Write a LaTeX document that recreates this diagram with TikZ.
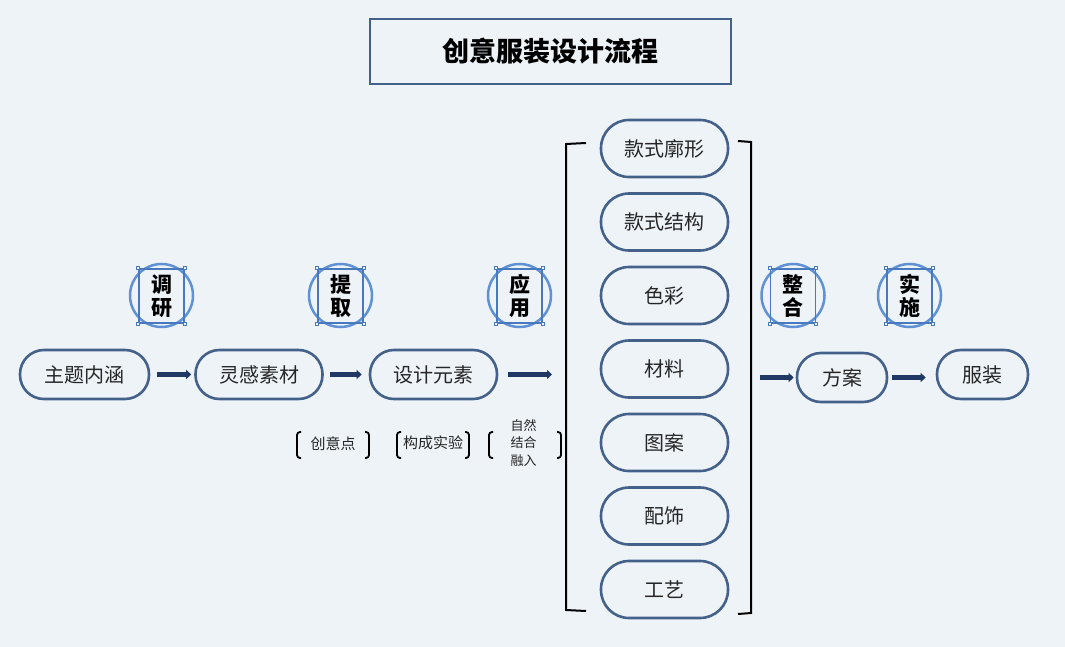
\documentclass[tikz,border=0pt]{standalone}
\usepackage{fontspec}
\setmainfont{Noto Sans CJK SC}
\usetikzlibrary{arrows.meta}
\definecolor{bgcol}{RGB}{238,243,248}
\definecolor{boxline}{RGB}{68,97,138}
\definecolor{flowcol}{RGB}{31,56,100}
\definecolor{ringcol}{RGB}{95,145,212}
\definecolor{sqcol}{RGB}{72,120,190}
\begin{document}
\begin{tikzpicture}[x=1pt, y=-1pt,
  every node/.style={font=\fontsize{20}{24}\selectfont, text=black!85},
  stepbox/.style={draw=boxline, line width=2.6pt, rounded corners=24pt, minimum width=127pt, minimum height=49pt, inner sep=0pt},
  colbox/.style={stepbox, rounded corners=28pt, minimum height=57pt},
  flow/.style={draw=flowcol, line width=4.5pt, -{Triangle[length=5pt,width=9pt]}},
  ring/.style={circle, draw=ringcol, line width=2.5pt, minimum size=63pt, inner sep=0pt},
  tag/.style={draw=sqcol, line width=1.6pt, minimum width=45pt, minimum height=54pt, inner sep=0pt, align=center, font=\fontsize{21}{23}\selectfont\bfseries, text=black},
  handle/.style={draw=sqcol, fill=bgcol, line width=0.8pt, minimum size=3pt, inner sep=0pt},
  note/.style={font=\fontsize{15}{17}\selectfont, text=black!85, align=center},
  brk/.style={draw=black, line width=1.8pt, rounded corners=3pt}]
  \fill[bgcol] (0,0) rectangle (1065,647);
  \useasboundingbox (0,0) rectangle (1065,647);
  % title
  \node[draw=boxline, line width=2.6pt, minimum width=361pt, minimum height=65pt, font=\fontsize{27}{30}\selectfont\bfseries, text=black] (title) at (550.5,51.5) {创意服装设计流程};
  % main row
  \node[stepbox, minimum width=129pt] (theme) at (84.5,374.5) {主题内涵};
  \node[stepbox] (source) at (259,374.5) {灵感素材};
  \node[stepbox] (element) at (433.5,374.5) {设计元素};
  \node[stepbox, minimum width=90pt] (plan) at (842,377.5) {方案};
  \node[stepbox, minimum width=91pt] (garment) at (982.5,374.5) {服装};
  % element column
  \foreach \n/\t [count=\k from 0] in {shape/款式廓形, struct/款式结构, colour/色彩, fabric/材料, pattern/图案, deco/配饰, craft/工艺}
    \node[colbox] (\n) at (664.5,148.5+73.5*\k) {\t};
  \draw[line width=2pt] (586,143) -- (566,144) -- (566,610) -- (586,611);
  \draw[line width=2pt] (738,141) -- (751,142) -- (751,613) -- (738,614);
  % arrows
  \coordinate (into) at (552,374.5);
  \coordinate (outof) at (760,377.5);
  \draw[flow, shorten <=7pt, shorten >=3pt] (theme) -- (source);
  \draw[flow, shorten <=6pt, shorten >=7pt] (source) -- (element);
  \draw[flow, shorten <=10pt] (element) -- (into);
  \draw[flow, shorten >=2pt] (outof) -- (plan);
  \draw[flow, shorten <=4pt, shorten >=10pt] (plan.east) -- (plan.east -| garment.west);
  % step tags
  \foreach \n/\x/\t in {survey/161.5/调\\研, extract/340.5/提\\取, apply/519.5/应\\用, merge/793/整\\合, build/909.5/实\\施} {
    \node[ring] (\n-ring) at (\x,295.5) {};
    \node[tag] (\n) at (\x,296) {\t};
    \foreach \a in {north west, north east, south west, south east}
      \node[handle] at (\n.\a) {};
  }
  % bracketed notes
  \node[note] (idea) at (333,444) {创意点};
  \node[note] (compose) at (433,443) {构成实验};
  \node[note, font=\fontsize{13}{17.5}\selectfont] (nature) at (523.5,443) {自然\\结合\\融入};
  \foreach \l/\r in {297/369, 397/469, 489/561} {
    \draw[brk] (\l+4,432) -- (\l,432) -- (\l,458) -- (\l+4,458);
    \draw[brk] (\r-4,432) -- (\r,432) -- (\r,458) -- (\r-4,458);
  }
\end{tikzpicture}
\end{document}
